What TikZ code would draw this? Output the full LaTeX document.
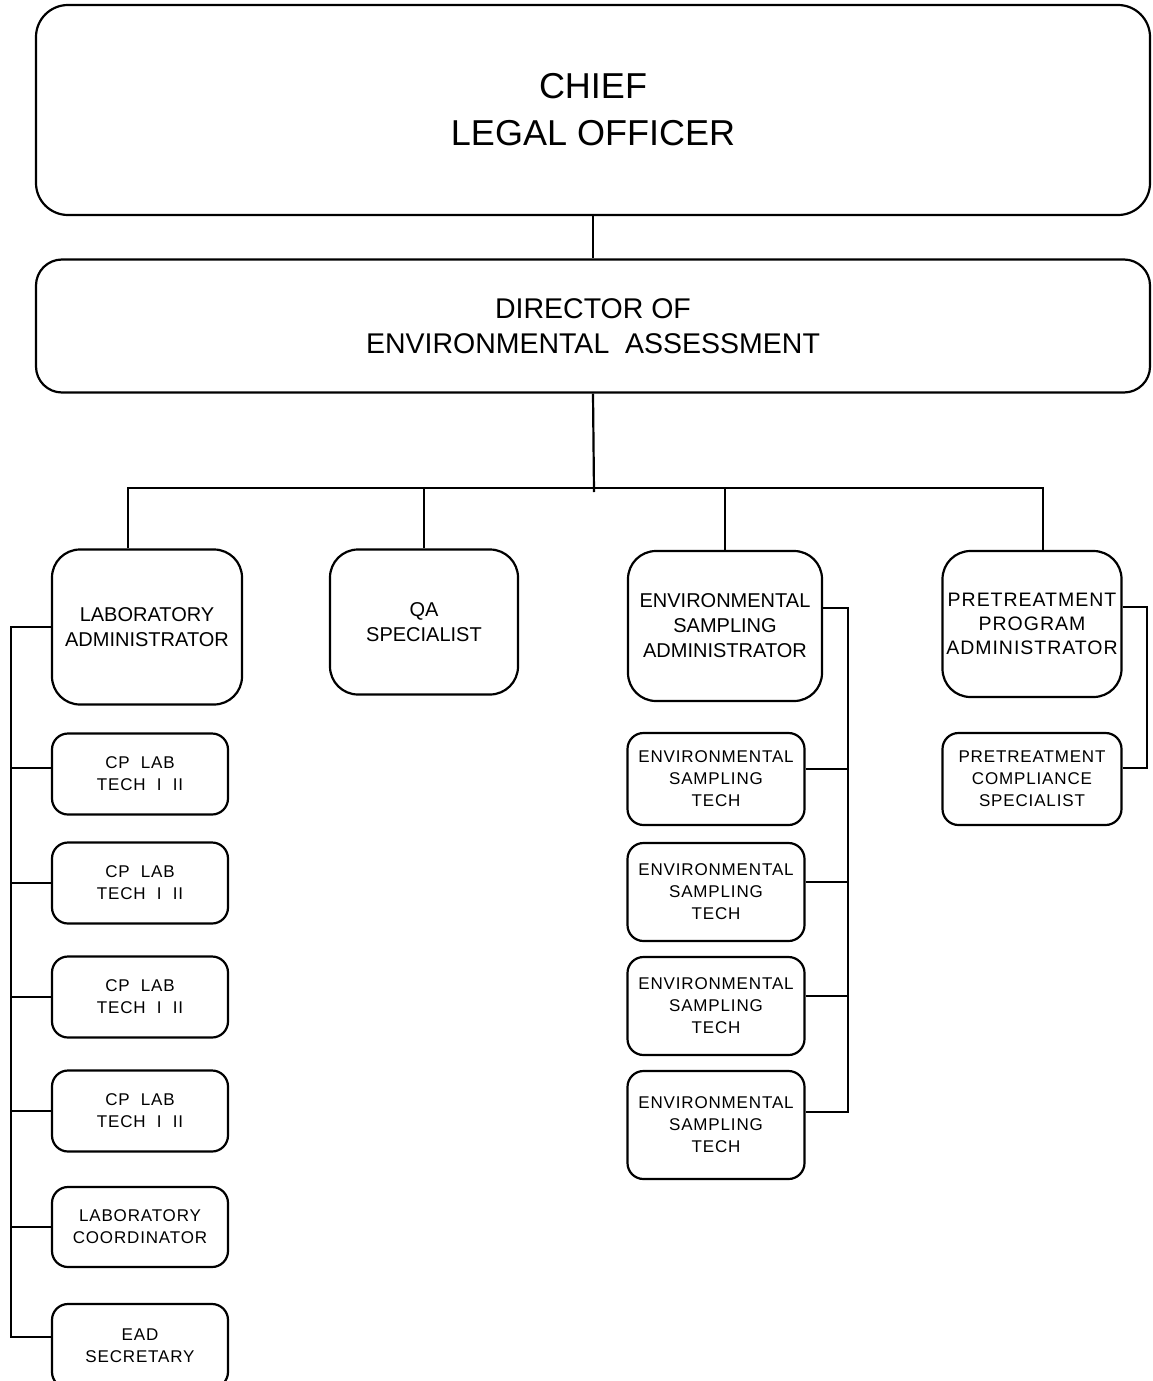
\documentclass[tikz,border=0pt]{standalone}
\usepackage{fontspec}
\setmainfont{Liberation Sans}
\newfontfamily\spacedfont[LetterSpace=5]{Liberation Sans}
\usepackage{tikz}
\usetikzlibrary{positioning,calc}

\tikzset{
  unit/.style={draw,line width=2.2pt,align=center,inner sep=0pt},
  topbox/.style={unit,rounded corners=32,minimum width=1114,font=\fontsize{36}{47}\selectfont},
  headbox/.style={unit,rounded corners=28,font=\fontsize{20}{25}\selectfont},
  staffbox/.style={unit,rounded corners=16,font=\spacedfont\fontsize{17}{22}\selectfont},
  link/.style={line width=2.2pt}
}

\begin{document}
\begin{tikzpicture}[x=1pt,y=-1pt]
  \useasboundingbox (0,0) rectangle (1152,1381);
  % top of the chart
  \node[topbox,minimum height=210] (chief) at (593,110) {CHIEF\\LEGAL OFFICER};
  \node[topbox,minimum height=133,rounded corners=26,font=\fontsize{28.5}{35}\selectfont] (dir) at (593,326) {DIRECTOR OF\\ENVIRONMENTAL~~ASSESSMENT};
  % division heads
  \node[headbox,minimum width=190,minimum height=155] (lab) at (147,627) {LABORATORY\\ADMINISTRATOR};
  \node[headbox,minimum width=188,minimum height=145] (qa) at (424,622) {QA\\SPECIALIST};
  \node[headbox,minimum width=194,minimum height=150] (env) at (725,626) {ENVIRONMENTAL\\SAMPLING\\ADMINISTRATOR};
  \node[headbox,minimum width=179,minimum height=146,font=\spacedfont\fontsize{19.5}{24}\selectfont] (pre) at (1032,624) {PRETREATMENT\\PROGRAM\\ADMINISTRATOR};
  % laboratory staff
  \foreach \n/\y in {cp1/774,cp2/883,cp3/997,cp4/1111}
    \node[staffbox,minimum width=176,minimum height=81] (\n) at (140,\y) {CP~~LAB\\TECH~~I~~II};
  \node[staffbox,minimum width=176,minimum height=80] (lc) at (140,1227) {LABORATORY\\COORDINATOR};
  \node[staffbox,minimum width=176,minimum height=84] (ead) at (140,1346) {EAD\\SECRETARY};
  % sampling staff
  \foreach \n/\y/\h in {est1/779/92,est2/892/98,est3/1006/98,est4/1125/108}
    \node[staffbox,minimum width=177,minimum height=\h] (\n) at (716,\y) {ENVIRONMENTAL\\SAMPLING\\TECH};
  \node[staffbox,minimum width=179,minimum height=92] (comp) at (1032,779) {PRETREATMENT\\COMPLIANCE\\SPECIALIST};

  % connectors
  \coordinate (bus) at (594,488);
  \coordinate (lspine) at (11,624);
  \coordinate (espine) at (848,608);
  \coordinate (pspine) at (1147,607);
  \draw[link] (chief) -- (dir);
  \draw[link] (dir.south) -- ($(bus)+(0,4)$);
  \draw[link] ([xshift=-19pt]lab.north) |- (bus) -| ([xshift=11pt]pre.north);
  \draw[link] (qa.north) -- (qa.north |- bus);
  \draw[link] (env.north) -- (env.north |- bus);
  \draw[link] (lab.west) -- (lab.west -| lspine) |- ([yshift=9pt]ead.west);
  \draw[link] ([yshift=6pt]cp1.west) -- ([yshift=6pt]cp1.west -| lspine);
  \foreach \n in {cp2,cp3,cp4,lc}
    \draw[link] (\n.west) -- (\n.west -| lspine);
  \draw[link] ([yshift=18pt]env.east) -- (espine) |- ([yshift=13pt]est4.east);
  \foreach \n in {est1,est2,est3}
    \draw[link] ([yshift=10pt]\n.east) -- ([yshift=10pt]\n.east -| espine);
  \draw[link] ([yshift=17pt]pre.east) -- (pspine) |- ([yshift=11pt]comp.east);
\end{tikzpicture}
\end{document}
